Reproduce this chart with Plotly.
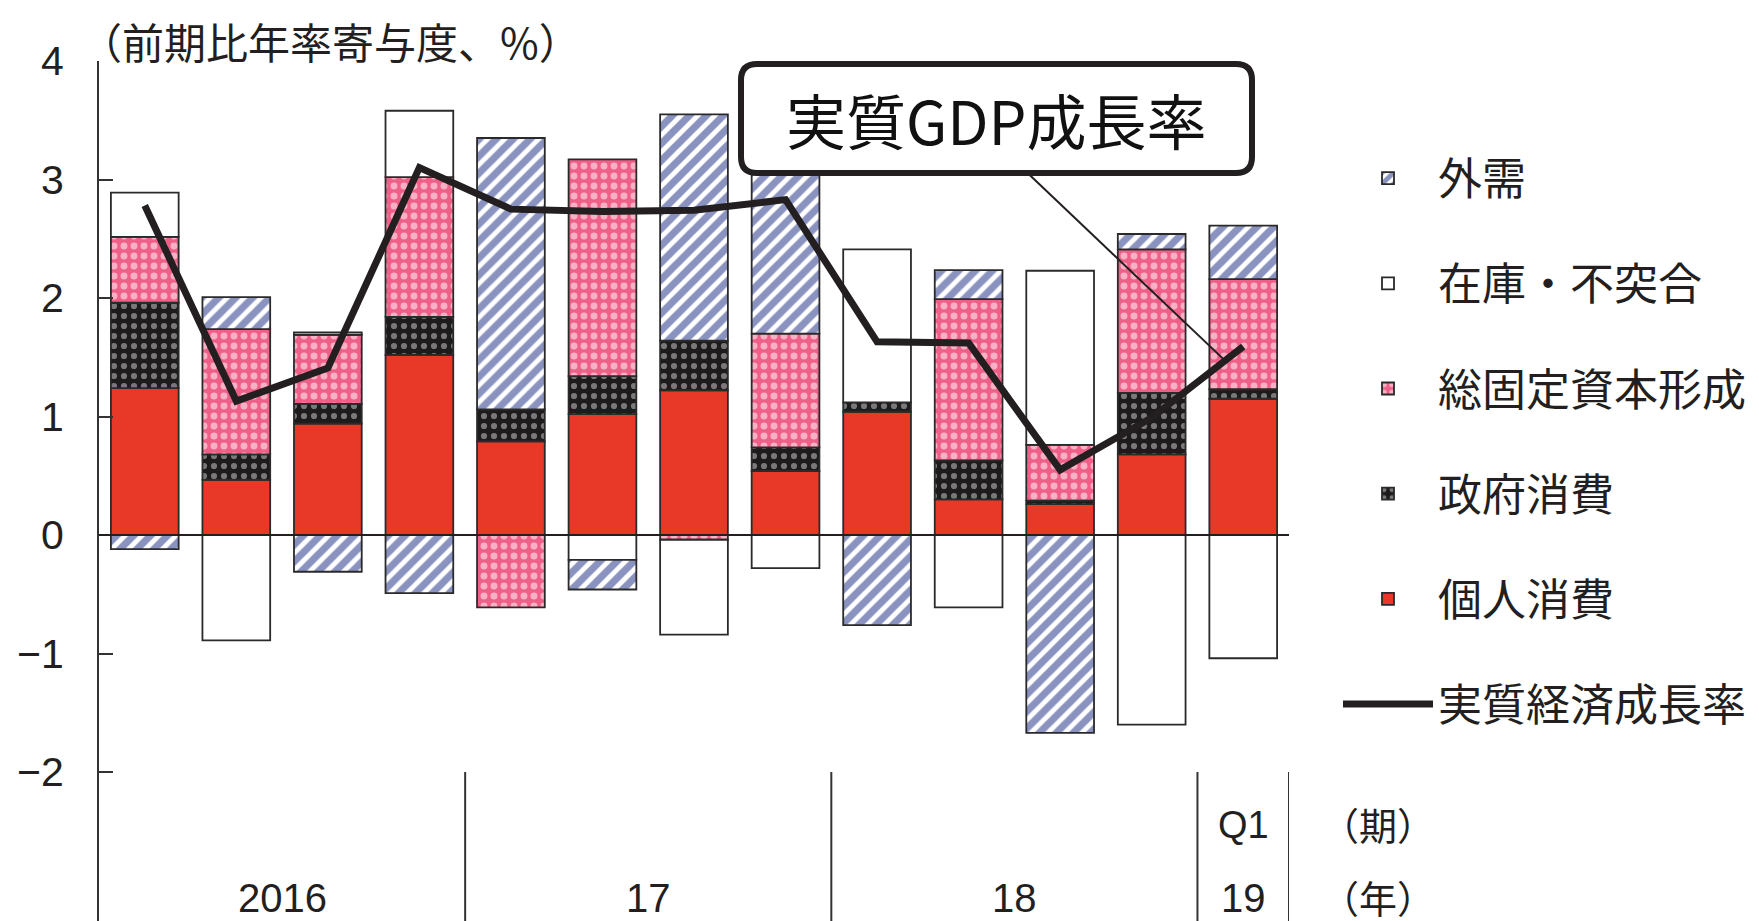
import plotly.graph_objects as go

# ---------------- data ----------------
quarters = ["2016Q1", "2016Q2", "2016Q3", "2016Q4",
            "2017Q1", "2017Q2", "2017Q3", "2017Q4",
            "2018Q1", "2018Q2", "2018Q3", "2018Q4",
            "2019Q1"]
private_consumption = [1.24, 0.465, 0.94, 1.52, 0.79, 1.02, 1.22, 0.54, 1.04, 0.30, 0.26, 0.68, 1.15]
government_consumption = [0.72, 0.215, 0.167, 0.32, 0.27, 0.32, 0.42, 0.20, 0.08, 0.33, 0.03, 0.52, 0.08]
fixed_investment = [0.555, 1.057, 0.583, 1.18, -0.61, 1.83, -0.04, 0.96, None, 1.36, 0.47, 1.21, 0.93]
inventory_discrepancy = [0.375, -0.89, 0.02, 0.56, None, -0.21, -0.80, -0.28, 1.29, -0.61, 1.47, -1.60, -1.04]
external_demand = [-0.12, 0.27, -0.31, -0.49, 2.29, -0.25, 1.91, 1.40, -0.76, 0.245, -1.67, 0.13, 0.45]
real_gdp_growth = [2.78, 1.13, 1.41, 3.10, 2.75, 2.73, 2.74, 2.83, 1.63, 1.62, 0.55, 0.99, 1.59]

year_labels = ["2016", "17", "18", "19"]
year_label_pos = [1.5, 5.5, 9.5, 12]
quarter_label = "Q1"
quarter_label_pos = 12
year_separators = [3.5, 7.5, 11.5, 12.5]
y_ticks = [-2, -1, 0, 1, 2, 3, 4]
y_tick_text = ["\u22122", "\u22121", "0", "1", "2", "3", "4"]

# ---------------- layout constants ----------------
W, H = 1759, 921
L, T, B = 91, 53, 0
R = W - 1281
PW, PH = W - L - R, H - T - B
Y_MAX = 4.0
UNIT = 118.5
Y_MIN = Y_MAX - PH / UNIT

def paper_x(px):
    return (px - L) / PW

def paper_y(py):
    return (H - B - py) / PH

INK = "#231F20"
CJK = "Noto Sans CJK JP"
NUM = "Liberation Sans Narrow, Liberation Sans, Arial Narrow, sans-serif"

fig = go.Figure()

common = dict(x=quarters, width=0.74, marker_line_color="#2a2a2a", marker_line_width=1.8,
              hoverinfo="skip")

fig.add_trace(go.Bar(name="個人消費", y=private_consumption, legendrank=5, legendgroup="a",
                     marker=dict(color="#E83828"), **common))
fig.add_trace(go.Bar(name="政府消費", y=government_consumption, legendrank=4, legendgroup="b",
                     marker=dict(color="#1E1B1C",
                                 pattern=dict(shape=".", fgcolor="#D5D5D5", bgcolor="#1E1B1C",
                                              size=10, solidity=0.3)), **common))
fig.add_trace(go.Bar(name="総固定資本形成", y=fixed_investment, legendrank=3, legendgroup="c",
                     marker=dict(color="#EE5F86",
                                 pattern=dict(shape=".", fgcolor="#FFFFFF", bgcolor="#EE6088",
                                              size=10, solidity=0.38)), **common))
fig.add_trace(go.Bar(name="在庫・不突合", y=inventory_discrepancy, legendrank=2, legendgroup="d",
                     marker=dict(color="#FFFFFF"), **common))
fig.add_trace(go.Bar(name="外需", y=external_demand, legendrank=1, legendgroup="e",
                     marker=dict(color="#1C2C88",
                                 pattern=dict(shape="/", fgcolor="#16257F", bgcolor="#FFFFFF",
                                              size=12, solidity=0.6)), **common))
fig.add_trace(go.Scatter(name="実質経済成長率", x=quarters, y=real_gdp_growth, mode="lines",
                         legendrank=6, legendgroup="f",
                         line=dict(color=INK, width=7), hoverinfo="skip"))

shapes = []
# zero line
shapes.append(dict(type="line", xref="x", yref="y", x0=-0.5, x1=12.5, y0=0, y1=0,
                   line=dict(color=INK, width=2), layer="above"))
# year separators in the label area
for s in year_separators:
    shapes.append(dict(type="line", xref="x", yref="y", x0=s, x1=s, y0=-2, y1=Y_MIN,
                       line=dict(color="#333333", width=2)))

# rounded callout box
bx0, bx1, by0, by1, rad = 733, 1244, 56, 165, 16
rx, ry = rad / PW, rad / PH
X0, X1 = paper_x(bx0), paper_x(bx1)
Yt, Yb = paper_y(by0), paper_y(by1)
path = (f"M {X0+rx},{Yt} L {X1-rx},{Yt} Q {X1},{Yt} {X1},{Yt-ry} "
        f"L {X1},{Yb+ry} Q {X1},{Yb} {X1-rx},{Yb} "
        f"L {X0+rx},{Yb} Q {X0},{Yb} {X0},{Yb+ry} "
        f"L {X0},{Yt-ry} Q {X0},{Yt} {X0+rx},{Yt} Z")
# pointer line from box to the growth line
shapes.append(dict(type="line", xref="x", yref="y", x0=9.65, y0=3.05, x1=11.79, y1=1.48,
                   line=dict(color=INK, width=2), layer="above"))
shapes.append(dict(type="path", xref="paper", yref="paper", path=path,
                   fillcolor="#FFFFFF", line=dict(color=INK, width=6), layer="above"))

annotations = []
annotations.append(dict(xref="paper", yref="paper", x=paper_x((bx0 + bx1) / 2), y=paper_y((by0 + by1) / 2),
                        text="実質GDP成長率", showarrow=False, xanchor="center", yanchor="middle",
                        font=dict(family=CJK, size=60, color="#111111")))
annotations.append(dict(xref="paper", yref="paper", x=paper_x(70), y=paper_y(32),
                        text="（前期比年率寄与度、%）", showarrow=False, xanchor="left", yanchor="middle",
                        font=dict(family=CJK, size=42, color=INK)))
for lab, pos in zip(year_labels, year_label_pos):
    annotations.append(dict(xref="x", yref="y", x=pos, y=-3.06, text=lab, showarrow=False,
                            xanchor="center", yanchor="middle",
                            font=dict(family=NUM, size=40, color=INK)))
annotations.append(dict(xref="x", yref="y", x=quarter_label_pos, y=-2.45, text=quarter_label,
                        showarrow=False, xanchor="center", yanchor="middle",
                        font=dict(family=NUM, size=38, color=INK)))
annotations.append(dict(xref="paper", yref="paper", x=paper_x(1370), y=paper_y(815),
                        text="（期）", showarrow=False, xanchor="center", yanchor="middle",
                        font=dict(family=CJK, size=38, color=INK)))
annotations.append(dict(xref="paper", yref="paper", x=paper_x(1370), y=paper_y(888),
                        text="（年）", showarrow=False, xanchor="center", yanchor="middle",
                        font=dict(family=CJK, size=38, color=INK)))

fig.update_layout(
    width=W, height=H,
    margin=dict(l=L, r=R, t=T, b=B, autoexpand=False),
    paper_bgcolor="white", plot_bgcolor="white",
    barmode="relative",
    showlegend=True,
    legend=dict(x=paper_x(1330), y=paper_y(135), xanchor="left", yanchor="top",
                traceorder="grouped", tracegroupgap=45, itemwidth=90,
                font=dict(family=CJK, size=44, color=INK), bgcolor="rgba(0,0,0,0)"),
    shapes=shapes,
    annotations=annotations,
    xaxis=dict(range=[-0.5, 12.5], showticklabels=False, ticks="", showline=False,
               showgrid=False, zeroline=False, fixedrange=True),
    yaxis=dict(range=[Y_MIN, Y_MAX], tickvals=y_ticks, ticktext=y_tick_text,
               ticks="inside", ticklen=14, tickwidth=2, tickcolor="#333333",
               showline=True, linecolor="#333333", linewidth=2,
               showgrid=False, zeroline=False, ticklabelstandoff=25,
               tickfont=dict(family=NUM, size=41, color=INK), fixedrange=True),
)

fig.write_html("out.html")
